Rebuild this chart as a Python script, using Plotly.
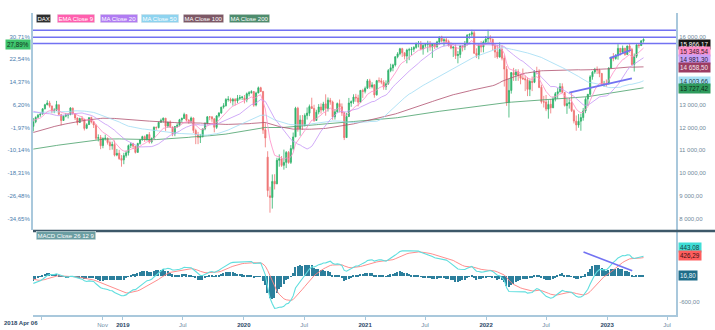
import pandas as pd
import plotly.graph_objects as go

FONT = "Liberation Sans, Arial, sans-serif"

# Weekly closes that seed the long averages (Fridays 2014-05-09 .. 2018-03-30)
warmup_closes = [
    9581, 9629, 9768, 9943, 9987, 9912, 9987, 9815, 10009, 9666, 9720, 9644, 9210, 9009, 9092, 9339, 9470,
    9747, 9651, 9799, 9490, 9195, 8788, 8850, 8987, 9326, 9291, 9252, 9732, 9980, 10087, 9594, 9786, 9922,
    9764, 9648, 10167, 10649, 10694, 10846, 10963, 11050, 11401, 11550, 11901, 12039, 11868, 11967, 12375,
    11688, 11811, 11454, 11709, 11447, 11815, 11413, 11197, 11196, 10978, 11492, 10944, 11059, 11673, 11347,
    11308, 11490, 10985, 10124, 10298, 10038, 10123, 9916, 9688, 9553, 10096, 10104, 10795, 10850, 10988,
    10708, 11119, 11293, 10752, 10340, 10608, 10727, 10743,
    9849, 9545, 9764, 9798, 9286, 8967, 9388, 9513, 9824, 9831, 9950, 9851, 9794, 9622, 10051, 10373, 10039,
    9870, 9952, 9916, 10287, 10103, 9834, 9631, 9557, 9776, 9630, 10067, 10147, 10337, 10367, 10713, 10544,
    10587, 10684, 10573, 10276, 10627, 10511, 10490, 10580, 10711, 10696, 10259, 10668, 10665, 10699, 10513,
    11203, 11404, 11449, 11481,
    11599, 11630, 11630, 11814, 11651, 11666, 11757, 11804, 12028, 11963, 12095, 12064, 12313, 12225, 12109,
    12049, 12438, 12717, 12770, 12638, 12602, 12823, 12816, 12753, 12733, 12325, 12389, 12631, 12240, 12163,
    12298, 12015, 12166, 12168, 12143, 12304, 12519, 12592, 12829, 12956, 12992, 12991, 13218, 13479, 13127,
    12994, 13060, 12861, 13154, 13104, 13073, 12918,
    13320, 13245, 13434, 13340, 12786, 12107, 12452, 12484, 11914, 12347, 12390, 11887, 12097,
]

# DAX weekly candles, Fridays 2018-04-06 .. 2023-04-21 (one line per year)
opens = [
    12050, 12250, 12450, 12550, 12600, 12830, 13000, 13080, 12950, 12730, 12770, 13000, 12560, 12310, 12500, 12550, 12570, 12850, 12600, 12420, 12220, 12390, 12360, 11970, 12130, 12440, 12250, 12100, 11530, 11560, 11210, 11520, 11530, 11340, 11200, 11260, 10790, 10870, 10640,
    10580, 10770, 10890, 11210, 11290, 11180, 10910, 11300, 11460, 11600, 11460, 11690, 11370, 11530, 12010, 12000, 12230, 12320, 12410, 12060, 12240, 12010, 11730, 12050, 12100, 12340, 12400, 12570, 12320, 12260, 12420, 11870, 11690, 11560, 11610, 11940, 12190, 12470, 12470, 12380, 12010, 12510, 12640, 12900, 12960, 13230, 13240, 13160, 13240, 13170, 13280, 13320,
    13290, 13220, 13480, 13530, 13580, 12990, 13520, 13750, 13580, 11900, 10700, 9000, 8930, 9640, 9530, 10560, 10630, 10340, 10470, 10910, 10470, 11080, 11590, 12850, 11950, 12330, 12090, 12530, 12630, 12920, 12840, 12310, 12680, 12900, 12770, 13040, 12840, 13200, 13120, 12470, 12690, 13050, 12910, 12650, 11560, 12480, 13080, 13140, 13340, 13300, 13110, 13630, 13590,
    13730, 14050, 13790, 13880, 13440, 14060, 14050, 13990, 13790, 13930, 14500, 14620, 14750, 15110, 15240, 15460, 15280, 15140, 15400, 15420, 15440, 15520, 15690, 15690, 15450, 15610, 15650, 15690, 15540, 15670, 15550, 15760, 15980, 15810, 15860, 15780, 15610, 15490, 15530, 15160, 15210, 15590, 15540, 15690, 16060, 16100, 16160, 15260, 15170, 15620, 15540, 15760,
    15890, 15950, 15880, 15600, 15320, 15100, 15430, 15040, 14560, 13100, 13630, 14410, 14310, 14450, 14290, 14170, 14140, 14100, 13680, 14030, 13990, 14470, 14460, 13770, 13130, 13120, 12810, 13020, 12870, 13260, 13490, 13580, 13800, 13540, 12960, 13050, 13090, 12740, 12280, 12110, 12280, 12440, 12730, 13250, 13460, 14230, 14440, 14540, 14530, 14370, 13890, 13940,
    13920, 14620, 15090, 15030, 15150, 15480, 15310, 15480, 15210, 15580, 15430, 14770, 15130, 15630, 15600, 15810,
]
highs = [
    12420, 12490, 12600, 12640, 12850, 13040, 13200, 13170, 12950, 12850, 13170, 13000, 12600, 12530, 12640, 12640, 12890, 12880, 12620, 12440, 12430, 12500, 12370, 12190, 12460, 12480, 12290, 12150, 11700, 11670, 11570, 11690, 11560, 11430, 11380, 11430, 11060, 11020, 10790,
    10890, 10990, 11250, 11340, 11330, 11190, 11330, 11500, 11640, 11650, 11700, 11800, 11560, 12050, 12040, 12260, 12390, 12440, 12420, 12250, 12310, 12050, 12070, 12190, 12380, 12440, 12650, 12580, 12370, 12480, 12440, 11950, 11810, 11720, 11960, 12220, 12500, 12480, 12490, 12420, 12540, 12680, 12910, 13070, 13290, 13380, 13310, 13300, 13290, 13430, 13430, 13390,
    13430, 13540, 13600, 13640, 13590, 13570, 13800, 13790, 13610, 12220, 10960, 9400, 9940, 9950, 10670, 10820, 10750, 11030, 10970, 10970, 11230, 11780, 12910, 12910, 12540, 12550, 12620, 12880, 13010, 13310, 13000, 12780, 13030, 13060, 13130, 13460, 13320, 13300, 13180, 12810, 13100, 13230, 13060, 12680, 12640, 13300, 13190, 13460, 13480, 13440, 13650, 13700, 13800,
    14130, 14140, 13990, 13890, 14090, 14200, 14170, 14080, 14070, 14570, 14800, 14800, 15130, 15310, 15500, 15500, 15300, 15460, 15500, 15540, 15570, 15730, 15800, 15800, 15660, 15700, 15810, 15800, 15710, 15680, 15810, 15990, 16030, 15920, 15950, 15860, 15740, 15570, 15650, 15360, 15600, 15630, 15800, 16100, 16130, 16290, 16250, 15480, 15700, 15800, 15820, 16020,
    16290, 16050, 15900, 15650, 15630, 15740, 15620, 15170, 14700, 14140, 14430, 14620, 14560, 14560, 14330, 14590, 14280, 14200, 14110, 14240, 14520, 14670, 14560, 13880, 13390, 13430, 13200, 13250, 13360, 13560, 13730, 13950, 13940, 13560, 13280, 13300, 13570, 12800, 12530, 12590, 12610, 12860, 13330, 13470, 14300, 14490, 14620, 14680, 14580, 14400, 14050, 14110,
    14650, 15110, 15270, 15230, 15660, 15490, 15600, 15500, 15600, 15710, 15500, 15250, 15660, 15660, 15830, 15920,
]
lows = [
    11830, 12190, 12400, 12470, 12560, 12790, 12980, 12870, 12620, 12630, 12730, 12530, 12100, 12290, 12450, 12400, 12540, 12560, 12330, 12100, 12200, 12280, 11870, 11930, 12110, 12180, 11980, 11450, 11390, 11050, 11090, 11430, 11250, 11010, 11030, 10730, 10740, 10580, 10280,
    10390, 10680, 10770, 11100, 11050, 10860, 10890, 11250, 11430, 11370, 11430, 11300, 11300, 11500, 11900, 11960, 12200, 12210, 11850, 11980, 11990, 11620, 11620, 11990, 12050, 12240, 12390, 12260, 12170, 12220, 11760, 11270, 11270, 11320, 11560, 11880, 12130, 12320, 12250, 11790, 11940, 12440, 12600, 12830, 12920, 13140, 13070, 12960, 12970, 13070, 13200, 13210,
    13060, 13110, 13370, 13490, 12910, 12930, 13500, 13560, 11720, 11130, 8960, 8260, 8440, 9280, 9510, 10280, 10270, 10150, 10220, 10410, 10400, 11000, 11580, 11820, 11640, 11900, 12050, 12350, 12500, 12820, 12250, 12300, 12580, 12610, 12700, 12520, 12700, 13000, 12340, 12350, 12650, 12660, 12510, 11450, 11540, 12470, 12910, 13040, 13130, 12930, 13080, 13300, 13500,
    13690, 13700, 13720, 13310, 13400, 13960, 13900, 13660, 13650, 13870, 14430, 14470, 14680, 15040, 15170, 15100, 14990, 14820, 14960, 15180, 15320, 15460, 15520, 15410, 15200, 15510, 15300, 15370, 15060, 15450, 15500, 15640, 15740, 15570, 15720, 15550, 15440, 15100, 15010, 14820, 15050, 15340, 15400, 15600, 15900, 15990, 15250, 15050, 15000, 15300, 15300, 15660,
    15700, 15740, 15400, 15060, 15020, 15070, 14950, 13800, 12950, 12440, 13490, 14050, 14050, 14050, 13900, 14090, 13600, 13380, 13380, 13600, 13950, 14330, 13730, 13050, 12880, 12720, 12390, 12620, 12850, 13150, 13260, 13530, 13530, 12920, 12600, 12830, 12680, 12180, 11860, 11990, 11860, 12300, 12630, 12950, 13400, 14100, 14360, 14350, 14210, 13830, 13790, 13790,
    13900, 14580, 14910, 14980, 14980, 15160, 15250, 15150, 15200, 15280, 14730, 14460, 15050, 15480, 15580, 15730,
]
closes = [
    12241, 12442, 12540, 12580, 12820, 13001, 13078, 12938, 12724, 12767, 13010, 12580, 12306, 12496, 12541, 12561, 12860, 12616, 12424, 12211, 12394, 12364, 11960, 12124, 12431, 12247, 12112, 11524, 11554, 11201, 11519, 11529, 11341, 11193, 11257, 10788, 10866, 10634, 10559,
    10768, 10888, 11205, 11282, 11181, 10907, 11300, 11457, 11602, 11458, 11686, 11364, 11526, 12010, 11999, 12222, 12315, 12412, 12060, 12239, 12011, 11727, 12045, 12096, 12340, 12399, 12569, 12323, 12260, 12419, 11872, 11694, 11563, 11612, 11939, 12192, 12469, 12468, 12381, 12013, 12512, 12634, 12895, 12961, 13229, 13242, 13164, 13236, 13167, 13283, 13319, 13337,
    13219, 13483, 13526, 13577, 12982, 13514, 13745, 13579, 11890, 11542, 9232, 8929, 9633, 9525, 10565, 10626, 10336, 10467, 10905, 10465, 11074, 11587, 12848, 11949, 12331, 12089, 12528, 12633, 12920, 12838, 12313, 12675, 12901, 12765, 13033, 12843, 13203, 13116, 12469, 12689, 13051, 12909, 12646, 11556, 12480, 13077, 13137, 13336, 13298, 13114, 13631, 13587, 13719,
    14050, 13788, 13873, 13433, 14057, 14050, 13993, 13786, 13920, 14502, 14621, 14749, 15107, 15234, 15460, 15280, 15136, 15400, 15417, 15438, 15520, 15693, 15693, 15448, 15608, 15650, 15688, 15540, 15669, 15544, 15761, 15977, 15808, 15852, 15781, 15609, 15490, 15532, 15156, 15206, 15587, 15543, 15688, 16054, 16094, 16160, 15257, 15169, 15623, 15532, 15756, 15885,
    15948, 15883, 15604, 15318, 15100, 15425, 15043, 14567, 13094, 13628, 14413, 14306, 14446, 14284, 14164, 14142, 14098, 13675, 14028, 13982, 14462, 14460, 13762, 13127, 13118, 12813, 13015, 12865, 13254, 13484, 13574, 13795, 13544, 12971, 13051, 13088, 12741, 12284, 12114, 12273, 12438, 12731, 13243, 13460, 14225, 14432, 14541, 14529, 14371, 13894, 13941, 13924,
    14610, 15087, 15033, 15150, 15476, 15308, 15482, 15210, 15578, 15428, 14768, 15128, 15629, 15598, 15808, 15866.17,
]

# Last values printed in the right-hand badges
close_last = 15866.17
ema9_last = 15348.54
ma20_last = 14981.30
ma50_last = 14003.66
ma100_last = 14658.50
ma200_last = 13727.42
macd_last = 443.08
signal_last = 426.29
hist_last = 16.80
change_pct_label = "27,89%"

# Axis labels
price_ticks = [8000, 9000, 10000, 11000, 12000, 13000, 16000]
pct_ticks = [8000, 9000, 10000, 11000, 12000, 13000, 14000, 15000, 16000]
pct_labels = ["-34,65%", "-26,48%", "-18,31%", "-10,14%", "-1,97%", "6,20%", "14,37%", "22,54%", "30,71%"]
macd_ticks = [-600]
date_ticks = ["2018-05-01", "2018-11-01", "2019-01-01", "2019-07-01", "2020-01-01", "2020-07-01",
              "2021-01-01", "2021-07-01", "2022-01-01", "2022-07-01", "2023-01-01", "2023-07-01"]
date_labels = ["", "Nov", "2019", "Jul", "2020", "Jul", "2021", "Jul", "2022", "Jul", "2023", "Jul"]
first_date_label = "2018 Apr 06"

# Drawn levels and trend lines
level_prices = [16270, 15960, 15690]
support_dates = ["2022-09-09", "2023-03-17"]
support_prices = [13530, 14162]
rise_dates = ["2023-01-08", "2023-03-14"]
rise_prices = [15040, 15405]
macd_trend_dates = ["2022-10-22", "2023-03-18"]
macd_trend_values = [574, 132]

# ---------------------------------------------------------------- indicators
week_dates = pd.date_range("2018-04-06", periods=len(closes), freq="W-FRI")
warm_dates = pd.date_range(end="2018-03-30", periods=len(warmup_closes), freq="W-FRI")
series = pd.Series(warmup_closes + closes, index=warm_dates.append(week_dates), dtype=float)

ema9 = series.ewm(span=9, adjust=False).mean()
ma20 = series.rolling(20).mean()
ma50 = series.rolling(50).mean()
ma100 = series.rolling(100).mean()
ma200 = series.rolling(200).mean()
macd = series.ewm(span=12, adjust=False).mean() - series.ewm(span=26, adjust=False).mean()
signal = macd.ewm(span=9, adjust=False).mean()
hist = macd - signal

n0 = len(warmup_closes)
view = slice(n0, None)


def fmt_price(v):
    return f"{v:,.2f}".replace(",", " ").replace(".", ",")


# ---------------------------------------------------------------- geometry
W, H = 715, 330
ML, MR, MT, MB = 33, 39, 13, 15
PW, PH = W - ML - MR, H - MT - MB


def px_x(px):
    return (px - ML) / PW


def px_y(py):
    return (H - MB - py) / PH


main_dom = [px_y(230), 1]
macd_dom = [0, px_y(232)]
price_range = [7500, 17030]
macd_range = [-915, 1047]
x_range = ["2018-04-05", "2023-07-28"]

C_EMA9 = "#ff8cc6"
C_MA20 = "#c596f6"
C_MA50 = "#9fdcf4"
C_MA100 = "#b0506f"
C_MA200 = "#46a068"
C_UP = "#2fb36b"
C_DOWN = "#ef7474"
C_LEVEL = "#7272f2"
AXIS_LINE = "#a9c8dc"

fig = go.Figure()

fig.add_trace(go.Candlestick(
    x=week_dates, open=opens, high=highs, low=lows, close=closes,
    increasing=dict(line=dict(color=C_UP, width=0.8), fillcolor=C_UP),
    decreasing=dict(line=dict(color=C_DOWN, width=0.8), fillcolor=C_DOWN),
    whiskerwidth=0, xaxis="x", yaxis="y", showlegend=False, hoverinfo="skip",
))

for s, col in [(ma200, C_MA200), (ma100, C_MA100), (ma50, C_MA50), (ma20, C_MA20), (ema9, C_EMA9)]:
    fig.add_trace(go.Scatter(x=week_dates, y=s.values[view], mode="lines",
                             line=dict(color=col, width=0.8), xaxis="x", yaxis="y",
                             showlegend=False, hoverinfo="skip"))

for d, v in [(support_dates, support_prices), (rise_dates, rise_prices)]:
    fig.add_trace(go.Scatter(x=d, y=v, mode="lines", line=dict(color=C_LEVEL, width=1.8),
                             xaxis="x", yaxis="y", showlegend=False, hoverinfo="skip"))

# invisible trace that carries the left percent axis
fig.add_trace(go.Scatter(x=[week_dates[0]], y=[closes[0]], mode="markers",
                         marker=dict(opacity=0), xaxis="x", yaxis="y3",
                         showlegend=False, hoverinfo="skip"))

# MACD panel
fig.add_trace(go.Bar(x=week_dates, y=hist.values[view], width=4.5 * 86400000,
                     marker=dict(color="#2c7f9c", line=dict(width=0)),
                     xaxis="x2", yaxis="y2", showlegend=False, hoverinfo="skip"))
fig.add_trace(go.Scatter(x=week_dates, y=signal.values[view], mode="lines",
                         line=dict(color="#ff8080", width=0.9), xaxis="x2", yaxis="y2",
                         showlegend=False, hoverinfo="skip"))
fig.add_trace(go.Scatter(x=week_dates, y=macd.values[view], mode="lines",
                         line=dict(color="#5fdede", width=1.1), xaxis="x2", yaxis="y2",
                         showlegend=False, hoverinfo="skip"))
fig.add_trace(go.Scatter(x=macd_trend_dates, y=macd_trend_values, mode="lines",
                         line=dict(color=C_LEVEL, width=1.6), xaxis="x2", yaxis="y2",
                         showlegend=False, hoverinfo="skip"))

shapes = []
for lv in level_prices:
    shapes.append(dict(type="line", xref="paper", yref="y", x0=0, x1=1, y0=lv, y1=lv,
                       line=dict(color=C_LEVEL, width=1.5)))
shapes.append(dict(type="line", xref="paper", yref="paper", x0=0, x1=(W - ML) / PW,
                   y0=px_y(231), y1=px_y(231), line=dict(color="#3d5869", width=2.5)))

year_col = "#2b4866"
month_col = "#6f8ca5"
tick_text = []
for lab in date_labels:
    if lab.isdigit():
        tick_text.append(f"<b><span style='color:{year_col}'>{lab}</span></b>")
    else:
        tick_text.append(f"<span style='color:{month_col}'>{lab}</span>")

ann = []


def badge(text, y, bg, fg, yref="y", yshift=0):
    ann.append(dict(text=text, xref="paper", x=1 + 2 / PW, xanchor="left", yref=yref, y=y,
                    yanchor="middle", yshift=yshift, showarrow=False, bgcolor=bg, borderpad=1,
                    font=dict(family=FONT, size=6.3, color=fg)))


badge(fmt_price(close_last), close_last, "#141414", "#ffffff", yshift=-5)
badge(fmt_price(ema9_last), ema9_last, "#ff8fc8", "#3a2030")
badge(fmt_price(ma20_last), ma20_last, "#c9a2f6", "#2c2040")
badge(fmt_price(ma100_last), ma100_last, "#9c3d63", "#f3e6ec")
badge(fmt_price(ma50_last), ma50_last, "#a9e2f6", "#1f3a48")
badge(fmt_price(ma200_last), ma200_last, "#2f9b5d", "#0e2a18")
badge(fmt_price(macd_last), macd_last, "#3fded6", "#17403e", yref="y2", yshift=10)
badge(fmt_price(signal_last), signal_last, "#ff5e5e", "#3a1010", yref="y2", yshift=3)
badge(fmt_price(hist_last), hist_last, "#1e6c89", "#e6f3f8", yref="y2")

ann.append(dict(text=change_pct_label, xref="paper", x=0, xanchor="right", xshift=-2,
                yref="y", y=close_last, yshift=-5, yanchor="middle", showarrow=False,
                bgcolor="#3fc46d", borderpad=1, font=dict(family=FONT, size=6.3, color="#10301c")))

legend_items = [("DAX", "#2e2e2e", 36), ("EMA Close 9", "#ff5fae", 56.5), ("MA Close 20", "#b07cf2", 99.5),
                ("MA Close 50", "#8ed3ef", 141), ("MA Close 100", "#7d5866", 183), ("MA Close 200", "#4e8c6d", 229)]
for text, bg, px in legend_items:
    ann.append(dict(text=text, xref="paper", x=px_x(px), xanchor="left", yref="paper", y=px_y(18.5),
                    yanchor="middle", showarrow=False, bgcolor=bg, borderpad=1,
                    bordercolor="#e8e8e8", borderwidth=0.5,
                    font=dict(family=FONT, size=6, color="#ffffff")))

ann.append(dict(text="MACD Close 26 12 9", xref="paper", x=px_x(36), xanchor="left", yref="paper",
                y=px_y(235.5), yanchor="middle", showarrow=False, bgcolor="#6b9ea2", borderpad=1,
                bordercolor="#dfeaea", borderwidth=0.5, font=dict(family=FONT, size=6, color="#ffffff")))

ann.append(dict(text=f"<b>{first_date_label}</b>", xref="paper", x=0, xanchor="right", xshift=7,
                yref="paper", y=0, yanchor="top", yshift=-3, showarrow=False,
                font=dict(family=FONT, size=6, color=year_col)))

fig.update_layout(
    width=W, height=H,
    margin=dict(l=ML, r=MR, t=MT, b=MB, pad=0, autoexpand=False),
    paper_bgcolor="white", plot_bgcolor="white",
    font=dict(family=FONT, size=6),
    showlegend=False, bargap=0,
    shapes=shapes, annotations=ann,
    xaxis=dict(domain=[0, 1], anchor="y", matches="x2", range=x_range, showticklabels=False,
               showline=False, showgrid=False, zeroline=False, ticks="", automargin=False,
               rangeslider=dict(visible=False)),
    xaxis2=dict(domain=[0, 1], anchor="y2", range=x_range, tickvals=date_ticks, ticktext=tick_text,
                showline=True, linecolor=AXIS_LINE, linewidth=2, showgrid=False, zeroline=False,
                ticks="outside", ticklen=3, tickcolor=AXIS_LINE, tickwidth=1, automargin=False,
                tickfont=dict(family=FONT, size=6), rangeslider=dict(visible=False)),
    yaxis=dict(domain=main_dom, anchor="x", side="right", range=price_range,
               tickvals=price_ticks, ticktext=[fmt_price(v) for v in price_ticks],
               tickfont=dict(family=FONT, size=6, color="#71899b"), automargin=False,
               showline=True, linecolor=AXIS_LINE, linewidth=2, showgrid=False, zeroline=False, ticks=""),
    yaxis3=dict(overlaying="y", anchor="x", side="left", range=price_range,
                tickvals=pct_ticks, ticktext=pct_labels, automargin=False,
                tickfont=dict(family=FONT, size=6, color="#4a7eae"),
                showline=True, linecolor=AXIS_LINE, linewidth=2, showgrid=False, zeroline=False, ticks=""),
    yaxis2=dict(domain=macd_dom, anchor="x2", side="right", range=macd_range,
                tickvals=macd_ticks, ticktext=[fmt_price(v) for v in macd_ticks], automargin=False,
                tickfont=dict(family=FONT, size=6, color="#71899b"),
                showline=True, linecolor=AXIS_LINE, linewidth=2, showgrid=False, zeroline=False, ticks=""),
)

fig.write_html("out.html")
